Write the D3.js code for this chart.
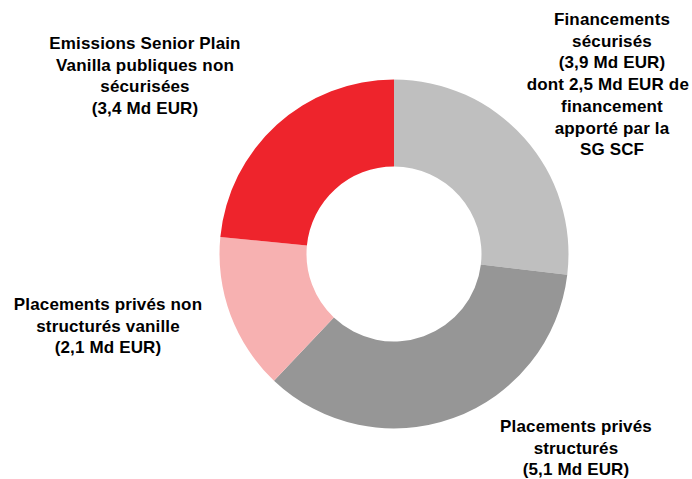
<!DOCTYPE html>
<html><head><meta charset="utf-8">
<script src="https://cdn.jsdelivr.net/npm/d3@7/dist/d3.min.js"></script>
<style>
html,body{margin:0;padding:0;background:#fff;}
svg{display:block;}
text{font-family:"Liberation Sans",Arial,sans-serif;font-weight:bold;fill:#000;}
</style></head>
<body>
<svg id="chart" width="692" height="479"></svg>
<script>
// Data
const categories = [
  "Financements sécurisés",
  "Placements privés structurés",
  "Placements privés non structurés vanille",
  "Emissions Senior Plain Vanilla publiques non sécurisées"
];
const values = [3.9, 5.1, 2.1, 3.4];
const labelLines = [
  ["Financements", "sécurisés", "(3,9 Md EUR)", "dont 2,5 Md EUR de", "financement", "apporté par la", "SG SCF"],
  ["Placements privés", "structurés", "(5,1 Md EUR)"],
  ["Placements privés non", "structurés vanille", "(2,1 Md EUR)"],
  ["Emissions Senior Plain", "Vanilla publiques non", "sécurisées", "(3,4 Md EUR)"]
];
const colors = ["#BFBFBF", "#969696", "#F7B1B1", "#EE242C"];

// Layout
const W = 692, H = 479;
const cx = 394, cy = 254, rOuter = 174.5, rInner = 87.5;
const labelAnchors = [[612, 25], [576, 432], [108, 310], [145, 49]];
const lineHeight = 21.7;
const rightLimit = W - 3;

const svg = d3.select("#chart");
const g = svg.append("g").attr("transform", `translate(${cx},${cy})`);

const pie = d3.pie().sort(null).value(d => d.v);
const arcs = pie(values.map((v, i) => ({v, i})));
const arc = d3.arc().innerRadius(rInner).outerRadius(rOuter);
const color = d3.scaleOrdinal().domain(d3.range(values.length)).range(colors);

g.selectAll("path").data(arcs).join("path")
  .attr("d", arc)
  .attr("fill", d => color(d.data.i));

const labels = svg.selectAll("text.lbl").data(labelLines).join("text")
  .attr("class", "lbl")
  .attr("text-anchor", "middle")
  .style("font-size", "17px")
  .style("letter-spacing", "0.15px")
  .attr("transform", (d, i) => `translate(${labelAnchors[i][0]},${labelAnchors[i][1]})`);
labels.each(function(lines, i) {
  const t = d3.select(this);
  const ax = labelAnchors[i][0];
  t.selectAll("tspan").data(lines).join("tspan")
    .attr("x", 0)
    .attr("y", (d, j) => j * lineHeight)
    .text(d => d)
    .each(function() {
      const len = this.getComputedTextLength();
      if (ax + len / 2 > rightLimit) {
        d3.select(this).attr("x", rightLimit - len / 2 - ax);
      }
    });
});
</script>
</body></html>
